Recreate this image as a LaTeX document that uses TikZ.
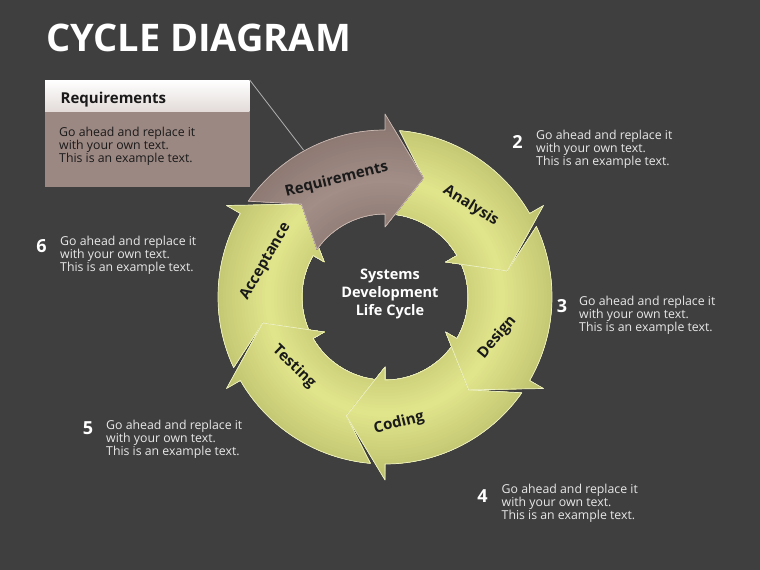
\documentclass[tikz,border=0pt]{standalone}
\usepackage{fontspec}
\setmainfont{Open Sans}
\usetikzlibrary{calc}
\definecolor{bgc}{HTML}{3F3F3F}
\definecolor{descc}{HTML}{E8E8E8}
\definecolor{labc}{HTML}{1A1A1A}
\definecolor{bodyc}{HTML}{9C8883}
\definecolor{hdrb}{HTML}{E2DBD8}
\definecolor{leadc}{HTML}{B0B0B0}
\definecolor{yD}{HTML}{E1E58C}
\definecolor{yF}{HTML}{B9BC68}
\definecolor{bD}{HTML}{A28D87}
\definecolor{bF}{HTML}{84706A}
\definecolor{yline}{HTML}{EDF0C2}
\definecolor{bline}{HTML}{C9BAB4}
\newcommand\segpath[1]{%
   ($(C)+(\sgT:167pt)$) arc[start angle=\sgT, end angle=#1, radius=167pt]
   -- ($(C)+(#1:183pt)$) -- ($(C)+(\sgP:125pt)$) -- ($(C)+(#1:70pt)$) -- ($(C)+(#1:83pt)$)
   arc[start angle=#1, end angle=\sgT, radius=83pt] -- ($(C)+(\sgN:125pt)$) -- cycle}
\newcommand\cycseg[3]{%
  \pgfmathsetmacro\sgT{#1+55}%
  \pgfmathsetmacro\sgN{#1+42}%
  \pgfmathsetmacro\sgP{#1-18}%
  \begin{scope}
    \clip \segpath{#1};
    \foreach \rr in {192,189,...,63} {
      \pgfmathsetmacro\pp{max(0,100*(1-abs(\rr-118)/72))}
      \fill[#2D!\pp!#2F] (C) circle (\rr pt);
    }
  \end{scope}
  \draw[#3, line width=0.7pt, line join=round] \segpath{#1};
}
\tikzset{
  num/.style={text=white, font=\bfseries\fontsize{18}{20}\selectfont, inner sep=0pt, anchor=base},
  desc/.style={text=descc, font=\fontsize{12.3}{13}\selectfont, align=left, inner sep=0pt, anchor=north west},
  seglab/.style={text=labc, font=\bfseries\fontsize{15}{17}\selectfont, inner sep=0pt},
}
\begin{document}
\begin{tikzpicture}[x=1pt,y=1pt]
\useasboundingbox (0,0) rectangle (760,570);
\fill[bgc] (0,0) rectangle (760,570);
\coordinate (C) at (385,273);
% title
\node[anchor=base west, text=white, font=\bfseries\fontsize{38}{40}\selectfont, inner sep=0pt] (title) at (46,518) {CYCLE DIAGRAM};
% callout
\node[anchor=north west, inner sep=0pt, minimum width=204.3pt, minimum height=75pt, fill=bodyc] (body) at (45,458.3) {};
\node[anchor=north west, inner sep=0pt, minimum width=204.3pt, minimum height=31.7pt, top color=white, bottom color=hdrb] (hdr) at (45,490) {};
\node[anchor=base west, inner sep=0pt, text=labc, font=\bfseries\fontsize{15}{17}\selectfont] (hdrtxt) at (60.5,466.5) {Requirements};
\node[desc, text=labc] (bodytxt) at (59,442.9) {Go ahead and replace it\\with your own text.\\This is an example text.};
\coordinate (lead) at ($(C)+(119:168pt)$);
\draw[leadc, line width=0.8pt] (hdr.north east) -- (lead);
% ring
\cycseg{150}{y}{yline}
\cycseg{210}{y}{yline}
\cycseg{270}{y}{yline}
\cycseg{330}{y}{yline}
\cycseg{30}{y}{yline}
\cycseg{90}{b}{bline}
% segment labels
\node[seglab, rotate=14] (lreq) at (336.7,390) {Requirements};
\node[seglab, rotate=-32] (lana) at (470.7,364) {Analysis};
\node[seglab, rotate=50] (ldes) at (497.3,232.7) {Design};
\node[seglab, rotate=14] (lcod) at (399,146.7) {Coding};
\node[seglab, rotate=-44] (ltes) at (294,203.3) {Testing};
\node[seglab, rotate=60] (lacc) at (265.7,308.3) {Acceptance};
% centre
\node[text=white, font=\bfseries\fontsize{14.5}{17.7}\selectfont, align=center, inner sep=0pt] (ctr) at (390,276) {Systems\\Development\\Life Cycle};
% side texts
\node[num] (n2) at (517.5,421.5) {2};
\node[desc] (t2) at (536,440.4) {Go ahead and replace it\\with your own text.\\This is an example text.};
\node[num] (n3) at (562,257) {3};
\node[desc] (t3) at (579,273.9) {Go ahead and replace it\\with your own text.\\This is an example text.};
\node[num] (n4) at (482.5,67) {4};
\node[desc] (t4) at (501.5,85.9) {Go ahead and replace it\\with your own text.\\This is an example text.};
\node[num] (n5) at (88,135) {5};
\node[desc] (t5) at (106,150.4) {Go ahead and replace it\\with your own text.\\This is an example text.};
\node[num] (n6) at (41.5,317) {6};
\node[desc] (t6) at (60,333.9) {Go ahead and replace it\\with your own text.\\This is an example text.};
\end{tikzpicture}
\end{document}
